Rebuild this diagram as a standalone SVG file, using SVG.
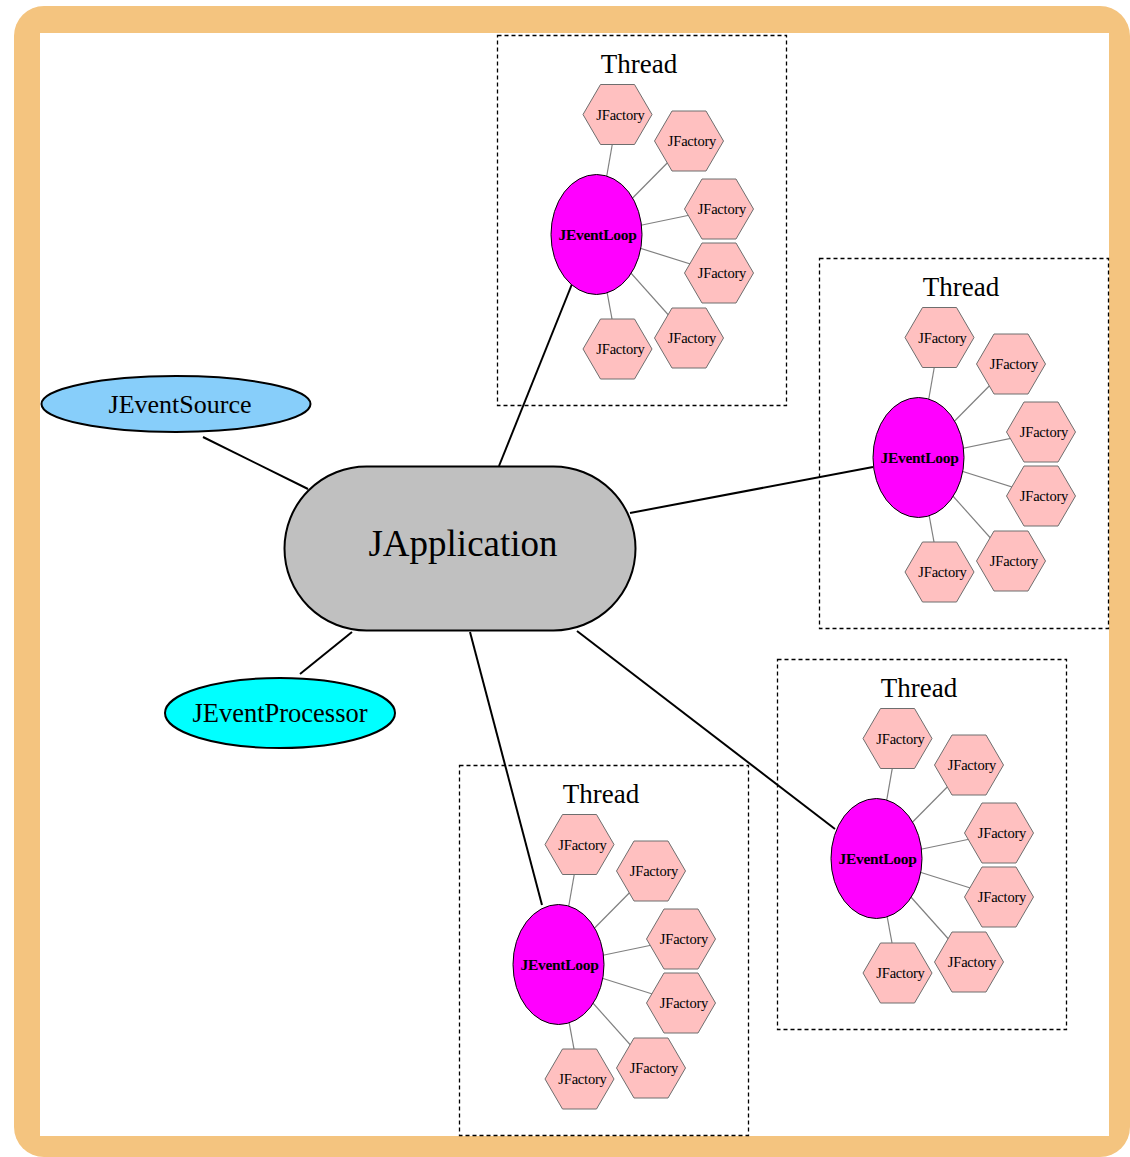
<svg xmlns="http://www.w3.org/2000/svg" xmlns:xlink="http://www.w3.org/1999/xlink" width="1130" height="1157" viewBox="0 0 1130 1157">
<style>
.t{font-family:"Liberation Serif","Times New Roman",serif;fill:#000;text-anchor:middle}
.ft{font-size:14.5px;letter-spacing:-0.2px}
.lt{font-size:15.5px;font-weight:bold;letter-spacing:-0.3px}
.th{font-size:27px}
.hex{fill:#FFC0C0;stroke:#6e6e6e;stroke-width:1}
.fe{stroke:#808080;stroke-width:1.2}
.loop{fill:#FF00FF;stroke:#000;stroke-width:1}
.box{fill:none;stroke:#000;stroke-width:1.3;stroke-dasharray:4,3}
.e{stroke:#000;stroke-width:2}
</style>
<defs>
<polygon id="hx" points="-34.5,0 -17,-30 17,-30 34.5,0 17,30 -17,30"/>
</defs>
<rect x="14" y="6" width="1116" height="1151" rx="30" fill="#F4C47F"/>
<rect x="40" y="33" width="1069" height="1103" fill="#fff"/>

<g id="connectors">
<line class="e" x1="203" y1="437" x2="308" y2="489"/>
<line class="e" x1="300" y1="674" x2="352" y2="632"/>
<line class="e" x1="499" y1="466" x2="572" y2="284"/>
<line class="e" x1="630" y1="513" x2="873" y2="467"/>
<line class="e" x1="577" y1="631" x2="835" y2="829"/>
<line class="e" x1="470" y1="632" x2="542" y2="905"/>
</g>

<g id="cluster1">
<rect class="box" x="497.5" y="35.5" width="289" height="370"/>
<text class="t th" x="639" y="73">Thread</text>
<g id="c1-edges">
<line class="fe" x1="596.5" y1="234.5" x2="617.5" y2="114.5"/>
<line class="fe" x1="596.5" y1="234.5" x2="689" y2="141"/>
<line class="fe" x1="596.5" y1="234.5" x2="719" y2="209"/>
<line class="fe" x1="596.5" y1="234.5" x2="719" y2="273"/>
<line class="fe" x1="596.5" y1="234.5" x2="689" y2="338"/>
<line class="fe" x1="596.5" y1="234.5" x2="617.5" y2="349"/>
</g>
<g id="c1-loop"><ellipse class="loop" cx="596.5" cy="234.5" rx="45.5" ry="60"/><text class="t lt" x="597.5" y="240">JEventLoop</text></g>
<g id="c1-f1" transform="translate(617.5,114.5)"><use href="#hx" class="hex"/><text class="t ft" x="3" y="5">JFactory</text></g>
<g id="c1-f2" transform="translate(689,141)"><use href="#hx" class="hex"/><text class="t ft" x="3" y="5">JFactory</text></g>
<g id="c1-f3" transform="translate(719,209)"><use href="#hx" class="hex"/><text class="t ft" x="3" y="5">JFactory</text></g>
<g id="c1-f4" transform="translate(719,273)"><use href="#hx" class="hex"/><text class="t ft" x="3" y="5">JFactory</text></g>
<g id="c1-f5" transform="translate(689,338)"><use href="#hx" class="hex"/><text class="t ft" x="3" y="5">JFactory</text></g>
<g id="c1-f6" transform="translate(617.5,349)"><use href="#hx" class="hex"/><text class="t ft" x="3" y="5">JFactory</text></g>
</g>

<g id="cluster2" transform="translate(322,223)">
<rect class="box" x="497.5" y="35.5" width="289" height="370"/>
<text class="t th" x="639" y="73">Thread</text>
<g id="c2-edges">
<line class="fe" x1="596.5" y1="234.5" x2="617.5" y2="114.5"/>
<line class="fe" x1="596.5" y1="234.5" x2="689" y2="141"/>
<line class="fe" x1="596.5" y1="234.5" x2="719" y2="209"/>
<line class="fe" x1="596.5" y1="234.5" x2="719" y2="273"/>
<line class="fe" x1="596.5" y1="234.5" x2="689" y2="338"/>
<line class="fe" x1="596.5" y1="234.5" x2="617.5" y2="349"/>
</g>
<g id="c2-loop"><ellipse class="loop" cx="596.5" cy="234.5" rx="45.5" ry="60"/><text class="t lt" x="597.5" y="240">JEventLoop</text></g>
<g id="c2-f1" transform="translate(617.5,114.5)"><use href="#hx" class="hex"/><text class="t ft" x="3" y="5">JFactory</text></g>
<g id="c2-f2" transform="translate(689,141)"><use href="#hx" class="hex"/><text class="t ft" x="3" y="5">JFactory</text></g>
<g id="c2-f3" transform="translate(719,209)"><use href="#hx" class="hex"/><text class="t ft" x="3" y="5">JFactory</text></g>
<g id="c2-f4" transform="translate(719,273)"><use href="#hx" class="hex"/><text class="t ft" x="3" y="5">JFactory</text></g>
<g id="c2-f5" transform="translate(689,338)"><use href="#hx" class="hex"/><text class="t ft" x="3" y="5">JFactory</text></g>
<g id="c2-f6" transform="translate(617.5,349)"><use href="#hx" class="hex"/><text class="t ft" x="3" y="5">JFactory</text></g>
</g>

<g id="cluster3" transform="translate(280,624)">
<rect class="box" x="497.5" y="35.5" width="289" height="370"/>
<text class="t th" x="639" y="73">Thread</text>
<g id="c3-edges">
<line class="fe" x1="596.5" y1="234.5" x2="617.5" y2="114.5"/>
<line class="fe" x1="596.5" y1="234.5" x2="689" y2="141"/>
<line class="fe" x1="596.5" y1="234.5" x2="719" y2="209"/>
<line class="fe" x1="596.5" y1="234.5" x2="719" y2="273"/>
<line class="fe" x1="596.5" y1="234.5" x2="689" y2="338"/>
<line class="fe" x1="596.5" y1="234.5" x2="617.5" y2="349"/>
</g>
<g id="c3-loop"><ellipse class="loop" cx="596.5" cy="234.5" rx="45.5" ry="60"/><text class="t lt" x="597.5" y="240">JEventLoop</text></g>
<g id="c3-f1" transform="translate(617.5,114.5)"><use href="#hx" class="hex"/><text class="t ft" x="3" y="5">JFactory</text></g>
<g id="c3-f2" transform="translate(689,141)"><use href="#hx" class="hex"/><text class="t ft" x="3" y="5">JFactory</text></g>
<g id="c3-f3" transform="translate(719,209)"><use href="#hx" class="hex"/><text class="t ft" x="3" y="5">JFactory</text></g>
<g id="c3-f4" transform="translate(719,273)"><use href="#hx" class="hex"/><text class="t ft" x="3" y="5">JFactory</text></g>
<g id="c3-f5" transform="translate(689,338)"><use href="#hx" class="hex"/><text class="t ft" x="3" y="5">JFactory</text></g>
<g id="c3-f6" transform="translate(617.5,349)"><use href="#hx" class="hex"/><text class="t ft" x="3" y="5">JFactory</text></g>
</g>

<g id="cluster4" transform="translate(-38,730)">
<rect class="box" x="497.5" y="35.5" width="289" height="370"/>
<text class="t th" x="639" y="73">Thread</text>
<g id="c4-edges">
<line class="fe" x1="596.5" y1="234.5" x2="617.5" y2="114.5"/>
<line class="fe" x1="596.5" y1="234.5" x2="689" y2="141"/>
<line class="fe" x1="596.5" y1="234.5" x2="719" y2="209"/>
<line class="fe" x1="596.5" y1="234.5" x2="719" y2="273"/>
<line class="fe" x1="596.5" y1="234.5" x2="689" y2="338"/>
<line class="fe" x1="596.5" y1="234.5" x2="617.5" y2="349"/>
</g>
<g id="c4-loop"><ellipse class="loop" cx="596.5" cy="234.5" rx="45.5" ry="60"/><text class="t lt" x="597.5" y="240">JEventLoop</text></g>
<g id="c4-f1" transform="translate(617.5,114.5)"><use href="#hx" class="hex"/><text class="t ft" x="3" y="5">JFactory</text></g>
<g id="c4-f2" transform="translate(689,141)"><use href="#hx" class="hex"/><text class="t ft" x="3" y="5">JFactory</text></g>
<g id="c4-f3" transform="translate(719,209)"><use href="#hx" class="hex"/><text class="t ft" x="3" y="5">JFactory</text></g>
<g id="c4-f4" transform="translate(719,273)"><use href="#hx" class="hex"/><text class="t ft" x="3" y="5">JFactory</text></g>
<g id="c4-f5" transform="translate(689,338)"><use href="#hx" class="hex"/><text class="t ft" x="3" y="5">JFactory</text></g>
<g id="c4-f6" transform="translate(617.5,349)"><use href="#hx" class="hex"/><text class="t ft" x="3" y="5">JFactory</text></g>
</g>

<g id="japplication">
<rect x="284.5" y="466.5" width="351" height="164" rx="82" fill="#C0C0C0" stroke="#000" stroke-width="2"/>
<text class="t" x="463" y="556" font-size="37">JApplication</text>
</g>
<g id="jeventsource">
<ellipse cx="176" cy="404" rx="134.5" ry="28" fill="#87CEFA" stroke="#000" stroke-width="2"/>
<text class="t" x="180" y="413" font-size="26">JEventSource</text>
</g>
<g id="jeventprocessor">
<ellipse cx="280" cy="713" rx="115" ry="35" fill="#00FFFF" stroke="#000" stroke-width="2"/>
<text class="t" x="280" y="722" font-size="26.5">JEventProcessor</text>
</g>
</svg>
